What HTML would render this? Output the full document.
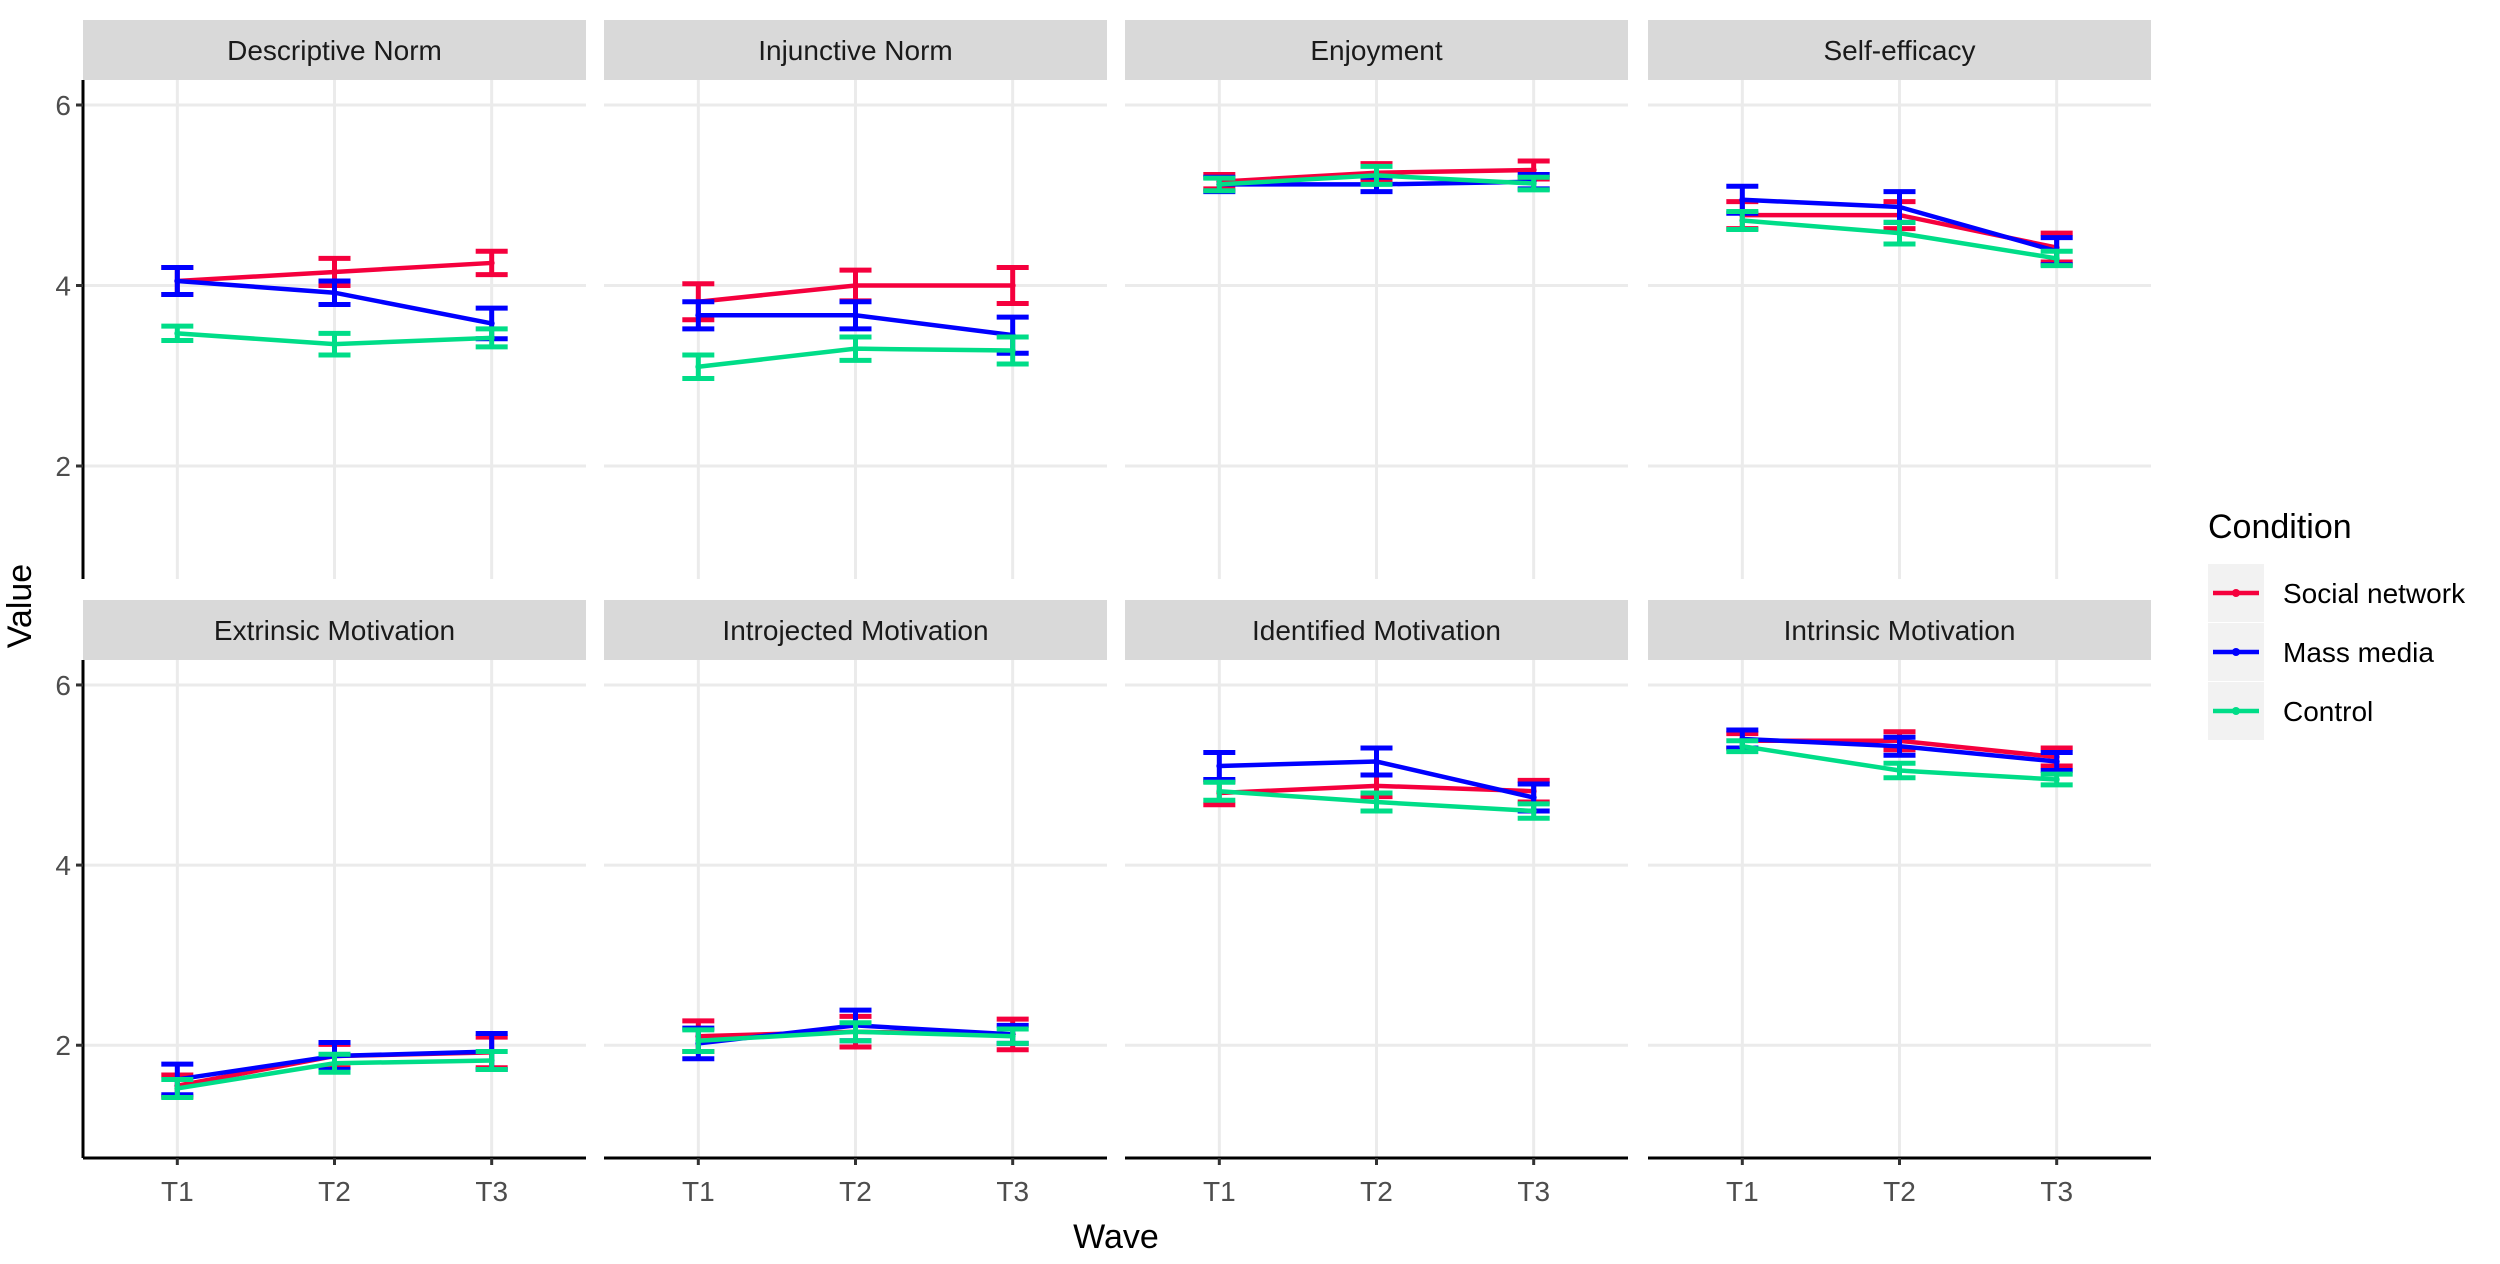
<!DOCTYPE html>
<html><head><meta charset="utf-8"><style>
html,body{margin:0;padding:0;background:#fff;}
svg{display:block;font-family:"Liberation Sans",Arial,sans-serif;}
</style></head><body>
<svg id="chart" width="2500" height="1264" viewBox="0 0 2500 1264" xmlns="http://www.w3.org/2000/svg">
<text x="1116" y="1248" font-size="34" text-anchor="middle" fill="#000">Wave</text>
<text transform="translate(31,606) rotate(-90)" font-size="34" text-anchor="middle" fill="#000">Value</text>
<g>
<text x="2208" y="538" font-size="34" fill="#000">Condition</text>
</g>
</svg>
<script>
const facets = ["Descriptive Norm","Injunctive Norm","Enjoyment","Self-efficacy","Extrinsic Motivation","Introjected Motivation","Identified Motivation","Intrinsic Motivation"];
const waves = ["T1","T2","T3"];
const conditions = ["Social network","Mass media","Control"];
const yTicks = [2,4,6];
// means per facet: [social, mass, control] each [T1,T2,T3]
const socialMeans = [[4.05,4.15,4.25],[3.82,4.0,4.0],[5.15,5.25,5.28],[4.78,4.78,4.42],[1.55,1.88,1.92],[2.1,2.15,2.12],[4.8,4.88,4.82],[5.38,5.38,5.2]];
const massMeans = [[4.05,3.92,3.58],[3.67,3.67,3.45],[5.12,5.12,5.15],[4.95,4.87,4.38],[1.62,1.88,1.93],[2.02,2.22,2.12],[5.1,5.15,4.75],[5.4,5.32,5.15]];
const controlMeans = [[3.47,3.35,3.42],[3.1,3.3,3.28],[5.12,5.22,5.13],[4.72,4.58,4.3],[1.52,1.8,1.83],[2.05,2.15,2.1],[4.82,4.7,4.6],[5.32,5.05,4.95]];
const socialErr = [[0.15,0.15,0.13],[0.2,0.17,0.2],[0.08,0.1,0.1],[0.15,0.15,0.16],[0.12,0.13,0.17],[0.17,0.17,0.17],[0.13,0.12,0.12],[0.08,0.1,0.1]];
const massErr = [[0.15,0.13,0.17],[0.15,0.15,0.2],[0.08,0.08,0.08],[0.15,0.17,0.15],[0.17,0.15,0.2],[0.17,0.17,0.1],[0.15,0.15,0.15],[0.1,0.1,0.1]];
const controlErr = [[0.08,0.12,0.1],[0.13,0.13,0.15],[0.07,0.1,0.07],[0.1,0.12,0.08],[0.1,0.1,0.1],[0.12,0.1,0.08],[0.1,0.1,0.08],[0.06,0.08,0.06]];

const NS="http://www.w3.org/2000/svg";
const svg=document.getElementById('chart');
const colors=["#f5003d","#0000ff","#00dd88"];
const means=[socialMeans,massMeans,controlMeans];
const errs=[socialErr,massErr,controlErr];
const colX=[83,604,1125,1648], panelW=503;
const rowStrip=[20,600], stripH=60, panelH=[499,498];
const yMin=0.748, yMax=6.277;
function mk(tag,attrs,parent){const e=document.createElementNS(NS,tag);for(const k in attrs)e.setAttribute(k,attrs[k]);(parent||svg).appendChild(e);return e;}
for(let f=0;f<8;f++){
  const row=Math.floor(f/4), col=f%4;
  const x0=colX[col], sTop=rowStrip[row], pTop=sTop+stripH, pBot=pTop+panelH[row];
  const xs=i=>x0+panelW*((i+1-0.4)/3.2);
  const ys=v=>pBot-(v-yMin)/(yMax-yMin)*(pBot-pTop);
  const g=mk('g',{});
  
  
  const strip=mk('rect',{x:x0,y:sTop,width:panelW,height:stripH,fill:'#d9d9d9'},g);
  
  
  const st=mk('text',{x:x0+panelW/2,y:sTop+stripH/2+10,'font-size':28,'text-anchor':'middle',fill:'#1a1a1a'},g);
  st.textContent=facets[f];
  
  
  yTicks.forEach(t=>{const l=mk('line',{x1:x0,x2:x0+panelW,y1:ys(t),y2:ys(t),stroke:'#ebebeb','stroke-width':3},g);
    
    });
  waves.forEach((w,i)=>{const l=mk('line',{x1:xs(i),x2:xs(i),y1:pTop,y2:pBot,stroke:'#ebebeb','stroke-width':3},g);
    
    });
  if(col===0){
    const ax=mk('line',{x1:x0,x2:x0,y1:pTop,y2:pBot,stroke:'#000','stroke-width':3},g);
    
    
    yTicks.forEach(t=>{mk('line',{x1:x0-7,x2:x0,y1:ys(t),y2:ys(t),stroke:'#333','stroke-width':3},g);
      const tl=mk('text',{x:x0-12,y:ys(t)+10,'font-size':28,'text-anchor':'end',fill:'#4d4d4d'},g);
      tl.textContent=t;
      
      });
  }
  if(row===1){
    const ax=mk('line',{x1:x0,x2:x0+panelW,y1:pBot,y2:pBot,stroke:'#000','stroke-width':3},g);
    
    
    waves.forEach((w,i)=>{mk('line',{x1:xs(i),x2:xs(i),y1:pBot,y2:pBot+7,stroke:'#333','stroke-width':3},g);
      const tl=mk('text',{x:xs(i),y:pBot+43,'font-size':28,'text-anchor':'middle',fill:'#4d4d4d'},g);
      tl.textContent=w;
      
      });
  }
  for(let c=0;c<3;c++){
    const m=means[c][f], e=errs[c][f];
    const pl=mk('polyline',{points:m.map((v,i)=>xs(i)+','+ys(v)).join(' '),fill:'none',stroke:colors[c],'stroke-width':4.5},g);
    
    
    m.forEach((v,i)=>{
      const eb=mk('path',{d:`M${xs(i)-16},${ys(v+e[i])}H${xs(i)+16}M${xs(i)},${ys(v+e[i])}V${ys(v-e[i])}M${xs(i)-16},${ys(v-e[i])}H${xs(i)+16}`,fill:'none',stroke:colors[c],'stroke-width':5},g);
      
      
      const pt=mk('circle',{cx:xs(i),cy:ys(v),r:3,fill:colors[c]},g);
      
      
    });
  }
}
const legY=[593,652,711];
conditions.forEach((c,k)=>{
  const g=mk('g',{});
  
  
  mk('rect',{x:2208,y:legY[k]-29,width:56,height:58,fill:'#f2f2f2'},g);
  mk('line',{x1:2213,x2:2259,y1:legY[k],y2:legY[k],stroke:colors[k],'stroke-width':4.5},g);
  mk('circle',{cx:2236,cy:legY[k],r:4,fill:colors[k]},g);
  const t=mk('text',{x:2283,y:legY[k]+10,'font-size':28,fill:'#000'},g);
  t.textContent=c;
});
</script>
</body></html>
